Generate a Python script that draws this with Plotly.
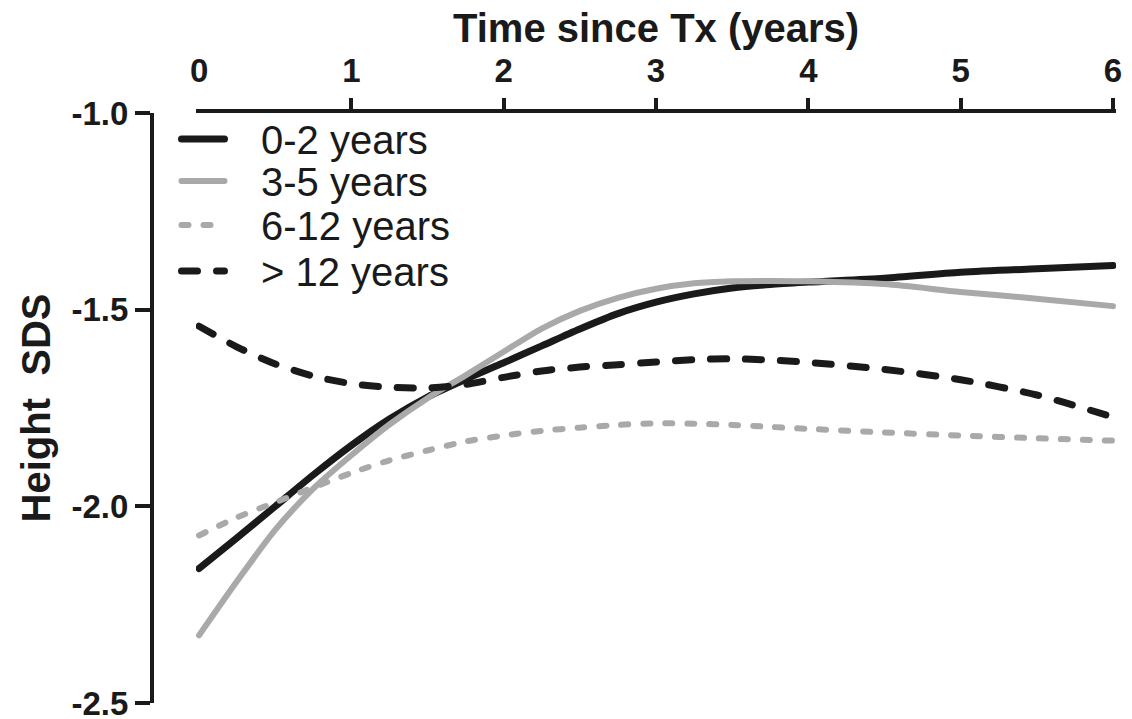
import plotly.graph_objects as go

# Time since transplantation (years)
years = [0, 0.25, 0.5, 0.75, 1.0, 1.25, 1.5, 1.75, 2.0, 2.25, 2.5, 2.75,
         3.0, 3.25, 3.5, 3.75, 4.0, 4.5, 5.0, 5.5, 6.0]

# Modelled height SDS per age group at transplantation
sds_0_2 = [-2.158, -2.08, -2.0, -1.92, -1.845, -1.778, -1.722, -1.677, -1.635,
           -1.592, -1.549, -1.51, -1.481, -1.46, -1.445, -1.436, -1.43,
           -1.42, -1.405, -1.396, -1.388]
sds_3_5 = [-2.328, -2.19, -2.06, -1.955, -1.87, -1.792, -1.725, -1.667, -1.607,
           -1.548, -1.503, -1.47, -1.447, -1.433, -1.428, -1.427, -1.428,
           -1.435, -1.455, -1.472, -1.491]
sds_6_12 = [-2.074, -2.028, -1.99, -1.952, -1.915, -1.883, -1.858, -1.835, -1.82,
            -1.808, -1.8, -1.793, -1.789, -1.79, -1.793, -1.798, -1.803,
            -1.812, -1.82, -1.827, -1.833]
sds_gt12 = [-1.542, -1.595, -1.638, -1.669, -1.688, -1.697, -1.699, -1.69, -1.672,
            -1.656, -1.646, -1.64, -1.633, -1.627, -1.625, -1.628, -1.634,
            -1.652, -1.678, -1.717, -1.773]

group_names = ["0-2 years", "3-5 years", "6-12 years", "> 12 years"]

x_ticks = [0, 1, 2, 3, 4, 5, 6]
x_tick_marks = [1, 2, 3, 4, 5, 6]
y_ticks = [-1.0, -1.5, -2.0, -2.5]
y_tick_text = ["-1.0", "-1.5", "-2.0", "-2.5"]

BLACK = "#1a1a1a"
GREY = "#a9a9a9"
FONT = "Liberation Sans, Arial, sans-serif"

styles = [
    dict(color=BLACK, width=7, dash="solid"),
    dict(color=GREY, width=6, dash="solid"),
    dict(color=GREY, width=6, dash="7px,15px"),
    dict(color=BLACK, width=7, dash="16px,19px"),
]

fig = go.Figure()
for name, ys, st in zip(group_names, [sds_0_2, sds_3_5, sds_6_12, sds_gt12], styles):
    fig.add_trace(go.Scatter(
        x=years, y=ys, mode="lines", name=name, showlegend=False,
        line=dict(color=st["color"], width=st["width"], dash=st["dash"],
                  shape="spline", smoothing=0.8),
    ))

# empty trace that carries the tick-mark axis (x2)
fig.add_trace(go.Scatter(
    x=x_tick_marks, y=[None] * len(x_tick_marks), xaxis="x2", yaxis="y",
    mode="lines", showlegend=False, hoverinfo="skip",
))

W, H = 1132, 719
ML, MR, MT, MB = 0, 16, 113, 16
PW = W - ML - MR
PH = H - MT - MB


def px_x(px):
    return (px - ML) / PW


def px_y(py):
    return 1 - (py - MT) / PH


X_RANGE = [-0.02, 6.02]
tick_font = dict(family=FONT, size=33, color=BLACK, weight="bold")

fig.update_layout(
    width=W, height=H,
    margin=dict(l=ML, r=MR, t=MT, b=MB, autoexpand=False),
    paper_bgcolor="white", plot_bgcolor="white",
    font=dict(family=FONT, color=BLACK),
    showlegend=False,
    xaxis=dict(
        side="top", anchor="y",
        domain=[px_x(196), 1.0],
        range=X_RANGE,
        tickmode="array", tickvals=x_ticks,
        ticks="", ticklabelstandoff=14,
        showline=True, linewidth=4, linecolor=BLACK,
        showgrid=False, zeroline=False,
        tickfont=tick_font,
    ),
    # tick marks only (none at the origin)
    xaxis2=dict(
        overlaying="x", side="top", anchor="y",
        range=X_RANGE,
        tickmode="array", tickvals=x_tick_marks,
        ticks="outside", ticklen=14, tickwidth=4, tickcolor=BLACK,
        showticklabels=False, showline=False,
        showgrid=False, zeroline=False,
    ),
    yaxis=dict(
        anchor="free", position=px_x(152),
        range=[-2.5, -1.0],
        tickmode="array", tickvals=y_ticks, ticktext=y_tick_text,
        ticks="outside", ticklen=15, tickwidth=4, tickcolor=BLACK,
        ticklabeloverflow="allow",
        showline=True, linewidth=4, linecolor=BLACK,
        showgrid=False, zeroline=False,
        tickfont=tick_font,
        title=dict(text="Height\u00a0\u00a0SDS", standoff=8,
                   font=dict(family=FONT, size=40, color=BLACK, weight="bold")),
    ),
)

# x-axis title
fig.add_annotation(
    text="Time since Tx (years)", xref="paper", yref="paper",
    x=(px_x(196) + 1.0) / 2, y=px_y(28), xanchor="center", yanchor="middle",
    showarrow=False,
    font=dict(family=FONT, size=40, color=BLACK, weight="bold"),
)

# Legend: sample line + label per group
legend_rows = [139, 181, 225, 271]
for name, st, row in zip(group_names, styles, legend_rows):
    fig.add_shape(
        type="line", xref="paper", yref="paper",
        x0=px_x(181.5), x1=px_x(224.5), y0=px_y(row), y1=px_y(row),
        line=dict(color=st["color"], width=st["width"], dash=st["dash"]),
    )
    fig.add_annotation(
        text=name, xref="paper", yref="paper",
        x=px_x(259), y=px_y(row + 1), xanchor="left", yanchor="middle",
        showarrow=False,
        font=dict(family=FONT, size=40, color=BLACK),
    )

# Rounded line ends and dash caps
round_caps = (
    "document.querySelectorAll('.js-line, .shapelayer path').forEach(function(p){"
    "p.style.strokeLinecap='round';p.style.strokeLinejoin='round';});"
)

fig.write_html("out.html", post_script=round_caps)
